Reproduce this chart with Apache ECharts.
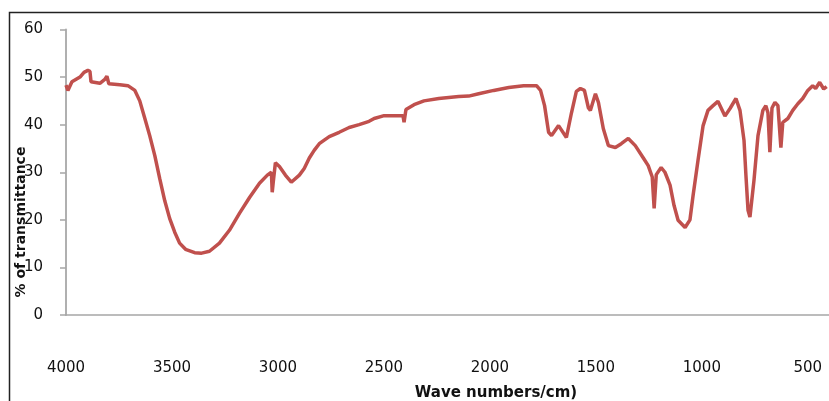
<!DOCTYPE html>
<html>
<head>
<meta charset="utf-8">
<script src="https://cdn.jsdelivr.net/npm/echarts@6/dist/echarts.min.js"></script>
<style>
  html, body { margin: 0; padding: 0; background: #fff; }
  #chart { width: 829px; height: 401px; }
</style>
</head>
<body>
<div id="chart"></div>
<script>
// wave numbers (cm-1)
const waveNumbers = [
  4000, 3991, 3972, 3934, 3915, 3897, 3887, 3882, 3840, 3817,
  3807, 3798, 3746, 3708, 3675, 3652, 3628, 3605, 3581, 3558,
  3534, 3511, 3487, 3464, 3436, 3393, 3360, 3323, 3276, 3229,
  3181, 3134, 3087, 3050, 3031, 3027, 3022, 3012, 2993, 2965,
  2937, 2899, 2876, 2852, 2829, 2805, 2758, 2711, 2664, 2617,
  2570, 2546, 2499, 2429, 2410, 2405, 2396, 2358, 2311, 2241,
  2147, 2100, 2053, 1982, 1911, 1841, 1780, 1761, 1742, 1723,
  1709, 1676, 1639, 1615, 1592, 1573, 1554, 1535, 1526, 1502,
  1488, 1465, 1441, 1408, 1380, 1347, 1314, 1276, 1253, 1234,
  1225, 1215, 1192, 1174, 1150, 1131, 1112, 1079, 1056, 1041,
  1018, 994, 971, 947, 924, 891, 867, 839, 820, 801,
  792, 782, 773, 764, 754, 735, 712, 698, 688, 679,
  669, 655, 641, 627, 618, 594, 571, 547, 524, 500,
  477, 463, 444, 425, 411
];

// % of transmittance
const transmittance = [
  48.3, 47.2, 49.0, 50.0, 51.0, 51.4, 51.2, 49.0, 48.7, 49.5,
  50.2, 48.6, 48.4, 48.2, 47.2, 45.0, 41.3, 37.7, 33.5, 28.7,
  24.0, 20.3, 17.4, 15.1, 13.8, 13.1, 13.0, 13.4, 15.1, 17.8,
  21.4, 24.7, 27.7, 29.4, 30.0, 25.8, 28.0, 32.0, 31.2, 29.4,
  27.9, 29.4, 30.8, 33.0, 34.6, 36.0, 37.5, 38.4, 39.4, 40.0,
  40.7, 41.3, 41.9, 41.9, 41.9, 40.5, 43.2, 44.2, 45.0, 45.5,
  45.9, 46.0, 46.5, 47.2, 47.8, 48.2, 48.2, 47.2, 44.0, 38.4,
  37.7, 39.8, 37.3, 42.5, 47.0, 47.6, 47.2, 43.5, 43.0, 46.5,
  44.7, 39.2, 35.6, 35.2, 36.0, 37.1, 35.6, 33.0, 31.4, 29.0,
  22.4, 29.5, 31.0, 30.0, 27.3, 23.0, 19.9, 18.4, 20.0, 25.2,
  32.5, 39.8, 43.0, 44.0, 44.9, 41.8, 43.4, 45.5, 43.0, 36.7,
  29.4, 22.0, 20.6, 21.0, 28.3, 37.7, 43.0, 44.0, 42.5, 34.2,
  43.5, 44.7, 44.0, 35.2, 40.5, 41.3, 43.0, 44.4, 45.5, 47.2,
  48.2, 47.6, 48.9, 47.5, 48.0
];

const xTicks = [500, 1000, 1500, 2000, 2500, 3000, 3500, 4000];

const chart = echarts.init(document.getElementById("chart"));

const option = {
  animation: false,
  backgroundColor: "#fff",
  textStyle: { fontFamily: "DejaVu Sans" },
  grid: { left: 66, top: 29.5, width: 765.3, bottom: 86, containLabel: false },
  xAxis: {
    type: "value",
    inverse: true,
    min: 400,
    max: 4000,
    splitLine: { show: false },
    axisLine: { show: true, lineStyle: { color: "#a6a6a6", width: 1.5 } },
    axisTick: { show: false },
    axisLabel: {
      customValues: xTicks,
      formatter: (v) => String(v),
      margin: 46,
      fontSize: 15,
      color: "#111",
    },
  },
  yAxis: {
    type: "value",
    min: 0,
    max: 60,
    interval: 10,
    splitLine: { show: false },
    axisLine: { show: true, lineStyle: { color: "#b0b0b0", width: 2 } },
    axisTick: { show: true, length: 6, lineStyle: { color: "#a6a6a6", width: 1.5 } },
    axisLabel: { margin: 23, fontSize: 15, color: "#111" },
  },
  series: [
    {
      type: "line",
      data: waveNumbers.map((w, i) => [w, transmittance[i]]),
      showSymbol: false,
      lineStyle: { color: "#C0504D", width: 3.5 },
      clip: false,
    },
  ],
  graphic: [
    {
      type: "rect",
      shape: { x: 9.5, y: 12.5, width: 900, height: 500 },
      style: { fill: "none", stroke: "#222", lineWidth: 1.5 },
      z: 100,
    },
    {
      type: "text",
      x: 496,
      y: 393,
      style: {
        text: "Wave numbers/cm)",
        font: "bold 15px 'DejaVu Sans'",
        fill: "#111",
        align: "center",
        verticalAlign: "middle",
      },
    },
    {
      type: "text",
      x: 21,
      y: 222,
      rotation: Math.PI / 2,
      style: {
        text: "% of transmittance",
        font: "bold 14px 'DejaVu Sans'",
        fill: "#111",
        align: "center",
        verticalAlign: "middle",
      },
    },
  ],
};

chart.setOption(option);
</script>
</body>
</html>
